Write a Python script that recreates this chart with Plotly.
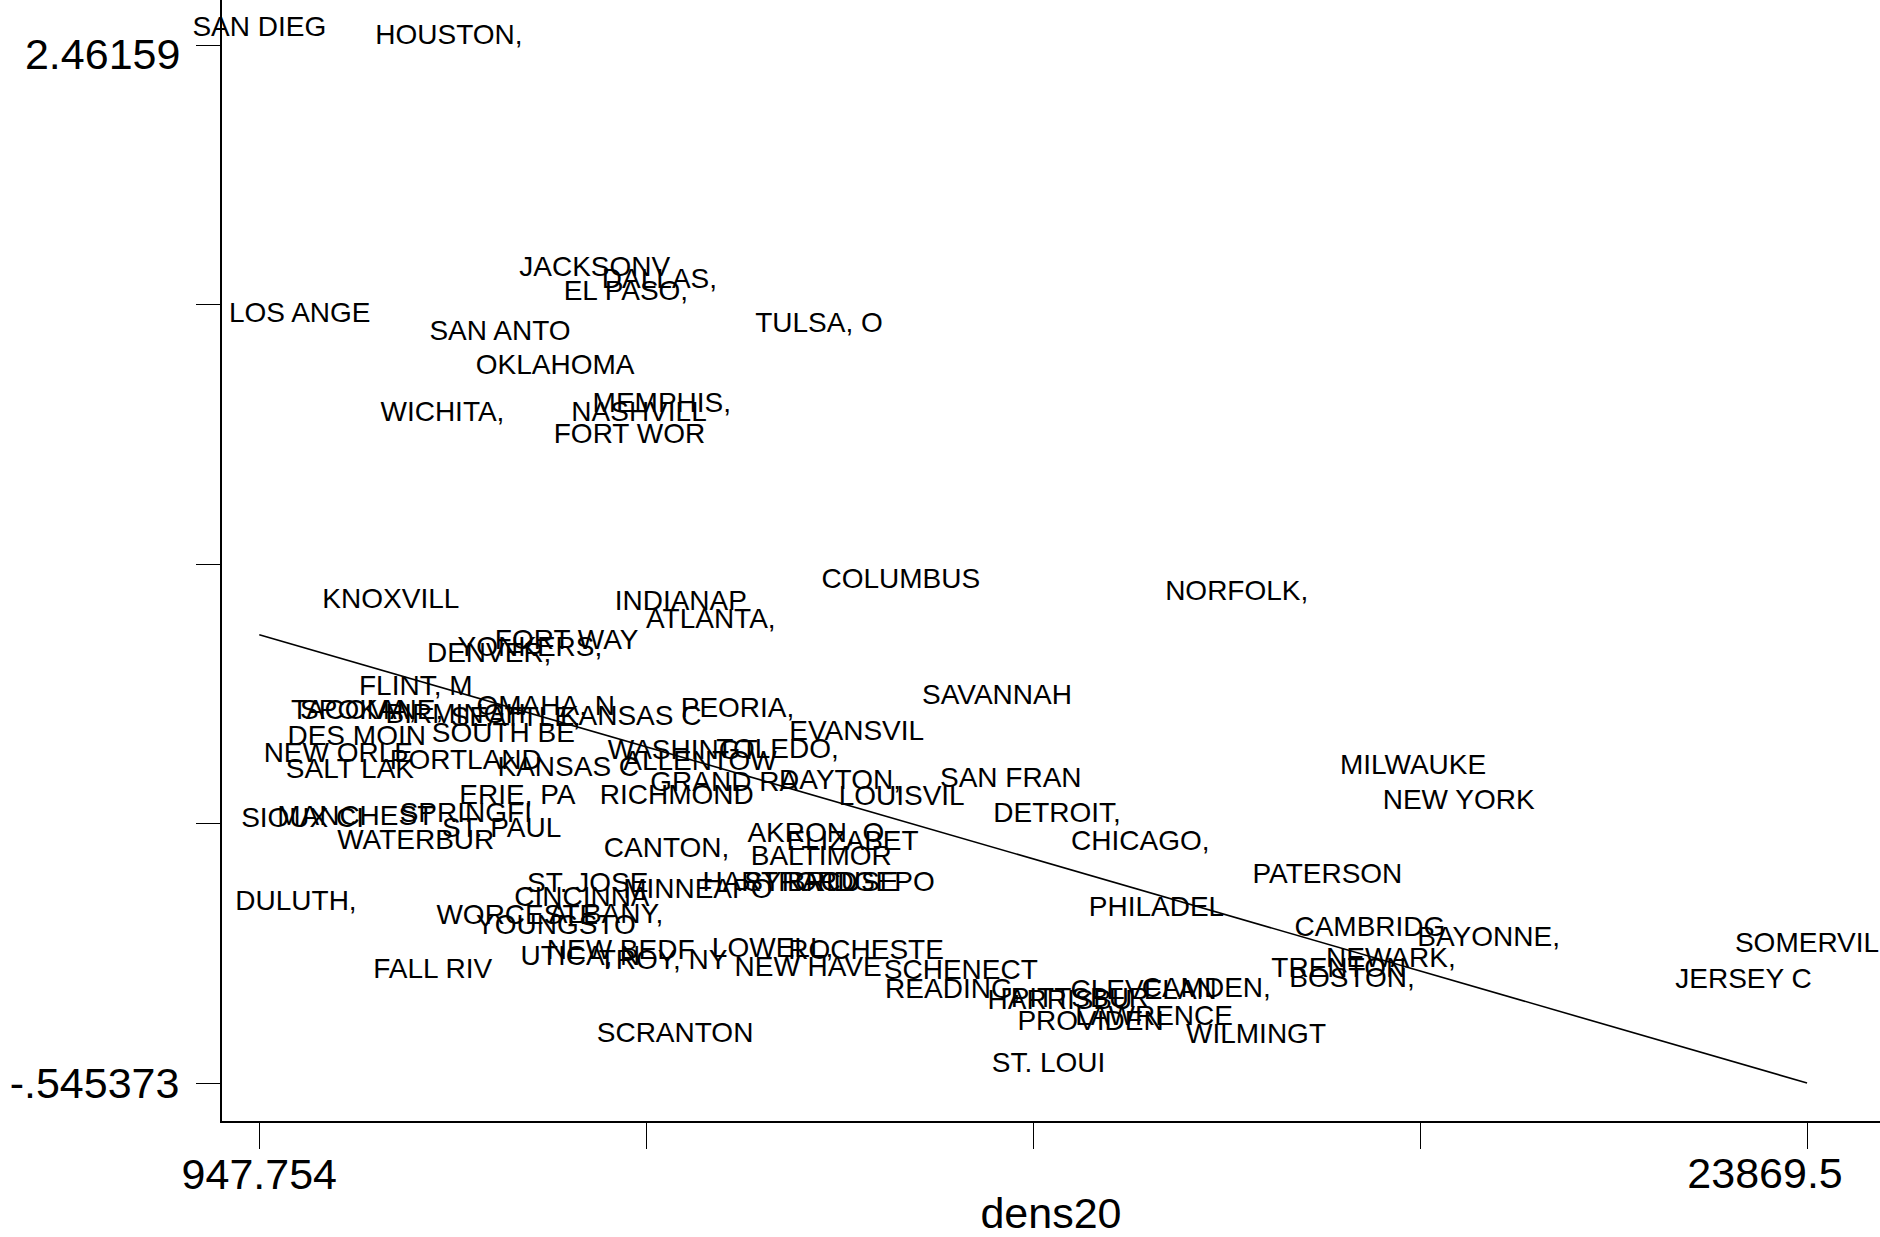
import plotly.graph_objects as go

# City labels (truncated as in source), x = dens20, y = outcome
city = [
    "SAN DIEG", "HOUSTON,", "JACKSONV", "DALLAS,", "EL PASO,", "LOS ANGE", "TULSA, O", "SAN ANTO",
    "OKLAHOMA", "MEMPHIS,", "NASHVILL", "WICHITA,", "FORT WOR", "COLUMBUS", "NORFOLK,", "KNOXVILL",
    "INDIANAP", "ATLANTA,", "FORT WAY", "YONKERS,", "DENVER,", "FLINT, M", "TACOMA,", "SPOKANE,",
    "BIRMINGH", "OMAHA, N", "SEATTLE,", "KANSAS C", "SOUTH BE", "DES MOIN", "NEW ORLE", "PORTLAND",
    "SALT LAK", "KANSAS C", "ERIE, PA", "RICHMOND", "SIOUX CI", "MANCHEST", "SPRINGFI", "ST. PAUL",
    "WATERBUR", "CANTON,", "SAVANNAH", "PEORIA,", "EVANSVIL", "WASHINGT", "TOLEDO,", "ALLENTOW",
    "GRAND RA", "DAYTON,", "LOUISVIL", "SAN FRAN", "DETROIT,", "CHICAGO,", "MILWAUKE", "NEW YORK",
    "AKRON, O", "ELIZABET", "BALTIMOR", "DULUTH,", "ST. JOSE", "MINNEAPO", "CINCINNA", "ALBANY,",
    "WORCESTE", "YOUNGSTO", "UTICA, N", "NEW BEDF", "TROY, NY", "FALL RIV", "SCRANTON", "HARTFORD",
    "SYRACUSE", "BRIDGEPO", "LOWELL,", "ROCHESTE", "NEW HAVE", "SCHENECT", "READING,", "HARRISBU",
    "PITTSBUR", "CLEVELAN", "CAMDEN,", "PATERSON", "PHILADEL", "CAMBRIDG", "BAYONNE,", "NEWARK,",
    "TRENTON", "BOSTON,", "SOMERVIL", "JERSEY C", "WILMINGT", "PROVIDEN", "LAWRENCE", "ST. LOUI",
]
dens20 = [
    948, 3757, 5915, 6874, 6377, 1546, 9236, 4512,
    5329, 6909, 6572, 3660, 6430, 10449, 15423, 2896,
    7190, 7634, 5499, 4956, 4352, 3265, 2345, 2612,
    3855, 5190, 4743, 6448, 4562, 2390, 2118, 4006,
    2290, 5524, 4771, 7130, 1589, 2376, 4006, 4537,
    3265, 6980, 11873, 8030, 9795, 7218, 8623, 7474,
    7833, 9548, 10461, 12077, 12763, 13995, 18035, 18710,
    9190, 9733, 9271, 1491, 5812, 7442, 5725, 6082,
    4769, 5341, 5704, 6299, 6927, 3516, 7105, 8659,
    9271, 9856, 8549, 9934, 9076, 11337, 11218, 12805,
    13100, 14045, 14972, 16766, 14235, 17396, 19154, 17707,
    16934, 17130, 23869.5, 22928, 15709, 13258, 14200, 12637,
]
yval = [
    2.508, 2.484, 1.814, 1.779, 1.744, 1.678, 1.651, 1.626,
    1.529, 1.418, 1.394, 1.394, 1.328, 0.909, 0.873, 0.852,
    0.844, 0.793, 0.731, 0.713, 0.695, 0.598, 0.530, 0.530,
    0.518, 0.540, 0.508, 0.511, 0.463, 0.453, 0.405, 0.385,
    0.359, 0.364, 0.284, 0.284, 0.216, 0.223, 0.230, 0.188,
    0.154, 0.129, 0.572, 0.535, 0.468, 0.414, 0.417, 0.381,
    0.321, 0.327, 0.279, 0.332, 0.231, 0.149, 0.371, 0.270,
    0.173, 0.149, 0.105, -0.023, 0.028, 0.011, -0.013, -0.061,
    -0.064, -0.093, -0.182, -0.165, -0.194, -0.221, -0.406, 0.032,
    0.032, 0.032, -0.159, -0.166, -0.215, -0.225, -0.279, -0.310,
    -0.305, -0.281, -0.277, 0.053, -0.041, -0.100, -0.128, -0.190,
    -0.218, -0.246, -0.145, -0.249, -0.409, -0.371, -0.357, -0.493,
]

# Fitted regression line endpoints
fit_x = [947.754, 23869.5]
fit_y = [0.753, -0.545373]

# Axis ticks (only the end ticks are labelled)
x_ticks = [947.754, 6678.19, 12408.63, 18139.06, 23869.5]
y_ticks = [-0.545373, 0.206368, 0.958109, 1.709849, 2.46159]
x_min_label, x_max_label = "947.754", "23869.5"
y_min_label, y_max_label = "-.545373", "2.46159"

X_RANGE = [395.3, 24950]
Y_RANGE = [-0.65545, 2.59195]
FONT = "Liberation Sans, Arial, sans-serif"
TICKFONT = dict(family=FONT, size=43, color="black")

fig = go.Figure()
fig.add_trace(go.Scatter(
    x=dens20, y=yval, mode="text", text=city, textposition="middle center",
    textfont=dict(family=FONT, size=28, color="black"),
    cliponaxis=False, showlegend=False, hoverinfo="skip",
))
# fitted line lives on the overlay axes (same scales) that carry the shifted end labels
fig.add_trace(go.Scatter(
    x=fit_x, y=fit_y, mode="lines", line=dict(color="black", width=1.6),
    xaxis="x2", yaxis="y2", showlegend=False, hoverinfo="skip",
))

fig.update_layout(
    width=1880, height=1237,
    margin=dict(l=222, r=0, t=0, b=116, autoexpand=False),
    paper_bgcolor="white", plot_bgcolor="white",
    showlegend=False,
    xaxis=dict(
        range=X_RANGE, showline=True, linecolor="black", linewidth=2,
        ticks="outside", ticklen=26, tickwidth=1, tickcolor="black",
        tickmode="array", tickvals=x_ticks,
        ticktext=[x_min_label] + [""] * (len(x_ticks) - 1),
        tickfont=TICKFONT, showgrid=False, zeroline=False, automargin=False,
        ticklabelstandoff=-12,
        title=dict(text="dens20", font=dict(family=FONT, size=43, color="black"), standoff=39),
    ),
    yaxis=dict(
        range=Y_RANGE, showline=True, linecolor="black", linewidth=2,
        ticks="outside", ticklen=24, tickwidth=1, tickcolor="black",
        tickmode="array", tickvals=y_ticks,
        ticktext=[y_min_label] + [""] * (len(y_ticks) - 1),
        tickfont=TICKFONT, showgrid=False, zeroline=False, automargin=False,
        ticklabelstandoff=8,
    ),
    xaxis2=dict(
        range=X_RANGE, overlaying="x", anchor="y", side="bottom",
        showline=False, ticks="outside", ticklen=26, tickcolor="rgba(0,0,0,0)",
        tickmode="array", tickvals=[x_ticks[-1]], ticktext=[x_max_label],
        tickfont=TICKFONT, showgrid=False, zeroline=False, automargin=False,
        ticklabelstandoff=-12, ticklabelshift=-42,
    ),
    yaxis2=dict(
        range=Y_RANGE, overlaying="y", anchor="x", side="left",
        showline=False, ticks="outside", ticklen=24, tickcolor="rgba(0,0,0,0)",
        tickmode="array", tickvals=[y_ticks[-1]], ticktext=[y_max_label],
        tickfont=TICKFONT, showgrid=False, zeroline=False, automargin=False,
        ticklabelstandoff=8, ticklabelshift=9,
    ),
)

fig.write_html("out.html")
